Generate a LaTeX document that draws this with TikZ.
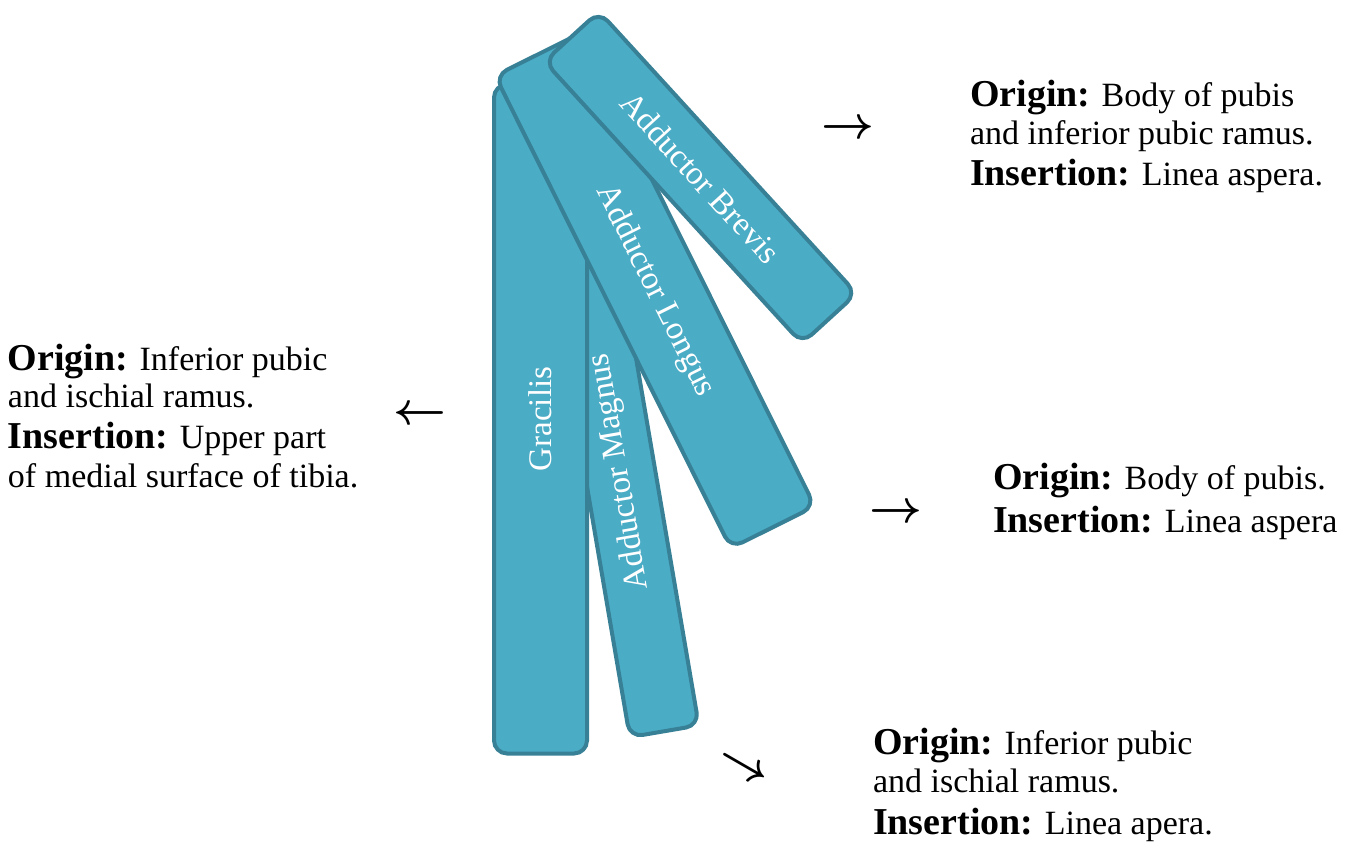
\documentclass[tikz,border=0pt]{standalone}
\usepackage{fix-cm}
\usepackage{fontspec}
\setmainfont{Liberation Serif}
\definecolor{mfill}{RGB}{75,172,198}
\definecolor{mline}{RGB}{55,128,150}
\newcommand\hd[1]{{\fontsize{38}{40}\selectfont\bfseries #1}}
\begin{document}
\begin{tikzpicture}[x=1pt,y=-1pt,
  muscle/.style={draw=mline, fill=mfill, line width=4pt, rounded corners=13pt,
    text=white, font=\fontsize{33}{38}\selectfont, inner sep=0pt, outer sep=0pt},
  lbl/.style={anchor=base west, inner sep=0pt, outer sep=0pt, font=\fontsize{34}{40}\selectfont},
  arr/.style={inner sep=0pt, outer sep=0pt, font=\fontsize{46}{46}\selectfont\boldmath}]
\useasboundingbox (0,0) rectangle (1362,841);
% muscles (back to front)
\node[muscle, rotate=99.7, minimum width=526, minimum height=70] (magnus) at (620,472) {Adductor Magnus};
\node[muscle, rotate=90, minimum width=669, minimum height=93] (gracilis) at (540.5,419) {Gracilis};
\node[muscle, rotate=-63.5, minimum width=528, minimum height=94] (longus) at (655,291) {Adductor Longus};
\node[muscle, rotate=-47.6, minimum width=382, minimum height=74] (brevis) at (700.5,177.5) {Adductor Brevis};
% arrows
\node[arr] (a1) at (848,130) {$\rightarrow$};
\node[arr] (a2) at (420,415) {$\leftarrow$};
\node[arr] (a3) at (896,513) {$\rightarrow$};
\node[arr, rotate=-30] (a4) at (743,768) {$\rightarrow$};
% block 1
\node[lbl] (b1l1) at (970,106) {\hd{Origin:} Body of pubis};
\node[lbl] (b1l2) at (970,144) {and inferior pubic ramus.};
\node[lbl] (b1l3) at (970,185) {\hd{Insertion:} Linea aspera.};
% block 2
\node[lbl] (b2l1) at (8,370) {\hd{Origin:} Inferior pubic};
\node[lbl] (b2l2) at (8,407) {and ischial ramus.};
\node[lbl] (b2l3) at (8,448) {\hd{Insertion:} Upper part};
\node[lbl] (b2l4) at (8,487) {of medial surface of tibia.};
% block 3
\node[lbl] (b3l1) at (993,489) {\hd{Origin:} Body of pubis.};
\node[lbl] (b3l2) at (993,532) {\hd{Insertion:} Linea aspera};
% block 4
\node[lbl] (b4l1) at (873,754) {\hd{Origin:} Inferior pubic};
\node[lbl] (b4l2) at (873,792) {and ischial ramus.};
\node[lbl] (b4l3) at (873,834) {\hd{Insertion:} Linea apera.};
\end{tikzpicture}
\end{document}
